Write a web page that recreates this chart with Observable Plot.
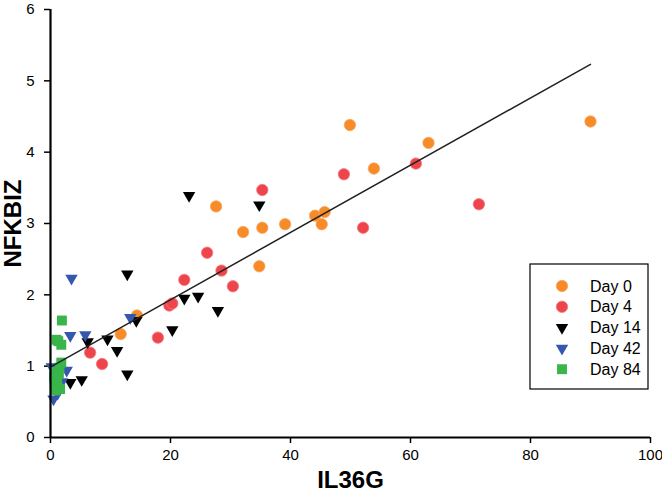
<!DOCTYPE html>
<html><head><meta charset="utf-8">
<script src="https://cdn.jsdelivr.net/npm/d3@7"></script>
<script src="https://cdn.jsdelivr.net/npm/@observablehq/plot@0.6"></script>
<style>
body{margin:0;background:#fff;}
#chart svg{font-family:"Liberation Sans",Arial,sans-serif;}
g[aria-label="x-axis label"] text, g[aria-label="y-axis label"] text{font-weight:bold;font-size:24px;}
</style></head><body><div id="chart"></div>
<script>
// Day 0 (orange circles)
const day0X = [90.0, 49.9, 63.0, 53.9, 39.1, 44.1, 45.7, 45.2, 27.6, 32.1, 35.3, 34.8, 14.4, 11.7];
const day0Y = [4.43, 4.38, 4.13, 3.77, 2.99, 3.11, 3.16, 2.99, 3.24, 2.88, 2.94, 2.40, 1.71, 1.45];
// Day 4 (red circles)
const day4X = [48.9, 60.9, 52.1, 71.4, 35.3, 26.1, 28.5, 22.3, 30.4, 19.8, 20.3, 17.9, 6.6, 8.6];
const day4Y = [3.69, 3.84, 2.94, 3.27, 3.47, 2.59, 2.34, 2.21, 2.12, 1.85, 1.88, 1.40, 1.19, 1.03];
// Day 14 (black down triangles)
const day14X = [23.1, 34.8, 22.3, 24.6, 27.9, 20.3, 12.8, 14.3, 9.5, 11.1, 6.2, 12.8, 5.2, 3.3];
const day14Y = [3.39, 3.26, 1.95, 1.98, 1.78, 1.51, 2.29, 1.64, 1.38, 1.22, 1.34, 0.89, 0.81, 0.77];
// Day 42 (blue down triangles)
const day42X = [3.5, 13.3, 3.3, 5.8, 2.7, 1.9, 0.5, 0.2, 1.2];
const day42Y = [2.23, 1.68, 1.43, 1.44, 0.94, 0.78, 0.54, 0.99, 0.62];
// Day 84 (green squares)
const day84X = [1.9, 1.0, 1.8, 1.3, 1.8, 1.5, 0.9, 0.6, 1.1, 0.7, 1.2, 0.8, 1.4, 1.6];
const day84Y = [1.64, 1.37, 1.30, 1.35, 1.05, 0.98, 0.92, 0.85, 0.80, 0.75, 0.70, 0.66, 0.90, 0.68];

const groupNames = ["Day 0", "Day 4", "Day 14", "Day 42", "Day 84"];
const xTicks = [0, 20, 40, 60, 80, 100];
const yTicks = [0, 1, 2, 3, 4, 5, 6];
const xLabel = "IL36G";
const yLabel = "NFKBIZ";

const seriesX = [day0X, day4X, day14X, day42X, day84X];
const seriesY = [day0Y, day4Y, day14Y, day42Y, day84Y];
const styles = [
  {fill: "#F68B28", stroke: "#F9A460", symbol: "circle", r: 5.7, rotate: 0},
  {fill: "#EE454C", stroke: "#F47A7F", symbol: "circle", r: 5.7, rotate: 0},
  {fill: "#000000", stroke: "none", symbol: "triangle", r: 4.6, rotate: 180},
  {fill: "#3557B0", stroke: "none", symbol: "triangle", r: 4.6, rotate: 180},
  {fill: "#39B54A", stroke: "none", symbol: "square", r: 5.6, rotate: 0}
];

const groups = groupNames.map((name, i) => seriesX[i].map((x, j) => ({group: name, x, y: seriesY[i][j]})));
const all = groups.flat();

const marks = [
  Plot.axisX({ticks: xTicks, tickFormat: d => String(d), tickSize: 6, tickPadding: 6, fontSize: 15, strokeWidth: 1.5,
    label: xLabel, labelAnchor: "center", labelArrow: false, labelOffset: 50}),
  Plot.axisY({ticks: yTicks, tickFormat: d => String(d), tickSize: 6, tickPadding: 10, fontSize: 15, strokeWidth: 1.5,
    label: yLabel, labelAnchor: "center", labelArrow: false, labelOffset: 47}),
];
groups.forEach((data, i) => {
  const s = styles[i];
  marks.push(Plot.dot(data, {x: "x", y: "y", fill: s.fill, stroke: s.stroke, strokeWidth: 0.8,
    symbol: s.symbol, r: s.r, rotate: s.rotate}));
});
marks.push(Plot.linearRegressionY(all, {x: "x", y: "y", ci: 0, stroke: "#222", strokeWidth: 1.5}));
marks.push(Plot.ruleX([0], {strokeWidth: 2.2}));
marks.push(Plot.ruleY([0], {strokeWidth: 2.2}));

const chart = Plot.plot({
  width: 662, height: 494,
  marginLeft: 50, marginRight: 12, marginTop: 9, marginBottom: 57,
  style: {fontFamily: "'Liberation Sans', Arial, sans-serif", background: "#fff", color: "#000"},
  x: {domain: [0, 100]},
  y: {domain: [0, 6]},
  marks
});
document.getElementById("chart").appendChild(chart);

// legend box
const svg = d3.select(chart);
const lg = svg.append("g").attr("transform", "translate(530,264)").attr("text-anchor", "start");
lg.append("rect").attr("width", 118).attr("height", 125).attr("fill", "#fff").attr("stroke", "#000").attr("stroke-width", 1.2);
groupNames.forEach((name, i) => {
  const s = styles[i];
  const gy = 22 + i * 20.8;
  const sym = s.symbol === "circle" ? d3.symbolCircle : s.symbol === "square" ? d3.symbolSquare : d3.symbolTriangle;
  lg.append("path").attr("d", d3.symbol(sym, Math.PI * s.r * s.r)())
    .attr("transform", `translate(32,${gy}) rotate(${s.rotate})`)
    .attr("fill", s.fill).attr("stroke", s.stroke).attr("stroke-width", 0.8);
  lg.append("text").attr("x", 60).attr("y", gy).attr("dy", "0.35em")
    .attr("text-anchor", "start").attr("font-size", 16).attr("fill", "#000").text(name);
});
</script></body></html>
